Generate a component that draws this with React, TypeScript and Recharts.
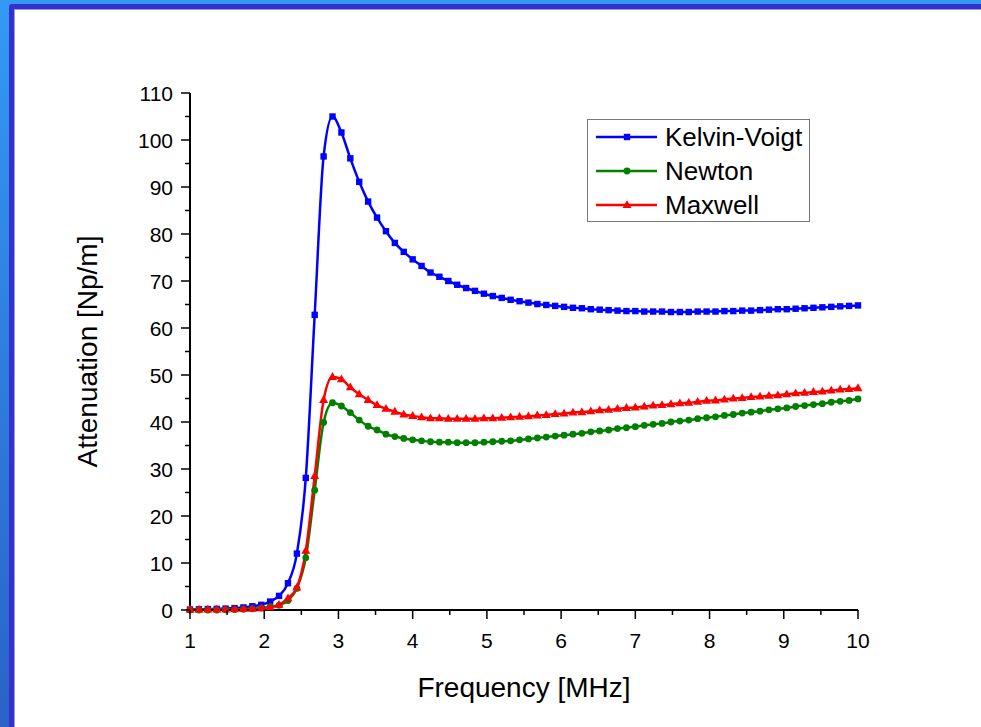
import React from "react";
import { LineChart, Line, XAxis, YAxis, Legend, Label } from "recharts";

const freq = [
  1.0, 1.12, 1.24, 1.36, 1.48, 1.6, 1.72, 1.84, 1.96, 2.08, 2.2, 2.32, 2.44, 2.56, 2.68, 2.8,
  2.92, 3.04, 3.16, 3.28, 3.4, 3.52, 3.64, 3.76, 3.88, 4.0, 4.12, 4.24, 4.36, 4.48, 4.6, 4.72,
  4.84, 4.96, 5.08, 5.2, 5.32, 5.44, 5.56, 5.68, 5.8, 5.92, 6.04, 6.16, 6.28, 6.4, 6.52, 6.64,
  6.76, 6.88, 7.0, 7.12, 7.24, 7.36, 7.48, 7.6, 7.72, 7.84, 7.96, 8.08, 8.2, 8.32, 8.44, 8.56,
  8.68, 8.8, 8.92, 9.04, 9.16, 9.28, 9.4, 9.52, 9.64, 9.76, 9.88, 10.0,
];

const kelvinVoigt = [
  0.1, 0.15, 0.2, 0.25, 0.3, 0.4, 0.55, 0.8, 1.1, 1.8, 3.0, 5.7, 12.0, 28.1, 62.8, 96.5,
  105.0, 101.6, 96.1, 91.1, 86.9, 83.5, 80.6, 78.1, 76.2, 74.6, 73.2, 71.8, 70.9, 70.0, 69.2, 68.5,
  67.9, 67.3, 66.8, 66.4, 66.0, 65.7, 65.4, 65.1, 64.9, 64.7, 64.5, 64.3, 64.2, 64.0, 63.9, 63.8,
  63.7, 63.6, 63.6, 63.5, 63.5, 63.5, 63.4, 63.4, 63.4, 63.5, 63.5, 63.5, 63.6, 63.6, 63.7, 63.7,
  63.8, 63.9, 64.0, 64.0, 64.1, 64.2, 64.3, 64.4, 64.5, 64.6, 64.7, 64.8,
];

const newton = [
  0, 0, 0, 0, 0.05, 0.1, 0.15, 0.25, 0.4, 0.7, 1.0, 2.0, 4.6, 11.1, 25.5, 39.9,
  44.1, 43.4, 42.0, 40.4, 39.1, 38.3, 37.4, 36.9, 36.5, 36.2, 36.0, 35.8, 35.7, 35.7, 35.6, 35.6,
  35.6, 35.7, 35.8, 35.9, 36.0, 36.2, 36.4, 36.6, 36.8, 37.0, 37.2, 37.4, 37.6, 37.9, 38.1, 38.3,
  38.6, 38.8, 39.0, 39.3, 39.5, 39.7, 40.0, 40.2, 40.4, 40.7, 40.9, 41.1, 41.4, 41.6, 41.9, 42.1,
  42.3, 42.6, 42.8, 43.0, 43.3, 43.5, 43.7, 43.9, 44.2, 44.4, 44.6, 44.9,
];

const maxwell = [
  0.1, 0.1, 0.1, 0.1, 0.1, 0.15, 0.2, 0.25, 0.35, 0.6, 1.1, 2.5, 4.8, 12.6, 28.5, 44.7,
  49.6, 49.1, 47.4, 45.9, 44.7, 43.6, 42.8, 42.2, 41.6, 41.3, 41.0, 40.8, 40.8, 40.7, 40.7, 40.7,
  40.7, 40.8, 40.8, 40.9, 41.0, 41.1, 41.2, 41.4, 41.5, 41.7, 41.8, 42.0, 42.1, 42.3, 42.5, 42.6,
  42.8, 43.0, 43.1, 43.3, 43.5, 43.6, 43.8, 44.0, 44.1, 44.3, 44.5, 44.6, 44.8, 45.0, 45.1, 45.3,
  45.4, 45.6, 45.7, 45.9, 46.1, 46.2, 46.4, 46.5, 46.7, 46.9, 47.0, 47.2,
];

const seriesOrder = ["kv", "nw", "mx"];
const xTicks = [1, 1.5, 2, 2.5, 3, 3.5, 4, 4.5, 5, 5.5, 6, 6.5, 7, 7.5, 8, 8.5, 9, 9.5, 10];
const yTicks = [0, 5, 10, 15, 20, 25, 30, 35, 40, 45, 50, 55, 60, 65, 70, 75, 80, 85, 90, 95, 100, 105, 110];

const data = freq.map((f, i) => ({
  f,
  kv: kelvinVoigt[i],
  nw: newton[i],
  mx: maxwell[i],
}));

const FONT = "'Liberation Sans', Arial, sans-serif";

const shapeFor: Record<string, string> = { kv: "square", nw: "circle", mx: "triangle" };

function drawMarker(shape: string, cx: number, cy: number, color: string, key?: string) {
  if (shape === "square")
    return <rect key={key} x={cx - 3.2} y={cy - 3.2} width={6.4} height={6.4} fill={color} />;
  if (shape === "circle") return <circle key={key} cx={cx} cy={cy} r={3.4} fill={color} />;
  return (
    <polygon
      key={key}
      points={`${cx},${cy - 4.8} ${cx + 4.5},${cy + 3} ${cx - 4.5},${cy + 3}`}
      fill={color}
    />
  );
}

const dotFor = (shape: string, color: string) => (props: any) =>
  drawMarker(shape, props.cx, props.cy, color, `${shape}-${props.index}`);

const XTick = (props: any) => {
  const { x, y, payload } = props;
  const major = Number.isInteger(payload.value);
  return (
    <g>
      <line x1={x} y1={y} x2={x} y2={y + (major ? 9 : 5)} stroke="#000" strokeWidth={1.5} />
      {major && (
        <text x={x} y={y + 38} textAnchor="middle" fontSize={21} fontFamily={FONT} fill="#000">
          {payload.value}
        </text>
      )}
    </g>
  );
};

const YTick = (props: any) => {
  const { x, y, payload } = props;
  const major = payload.value % 10 === 0;
  return (
    <g>
      <line x1={x} y1={y} x2={x - (major ? 9 : 5)} y2={y} stroke="#000" strokeWidth={1.5} />
      {major && (
        <text x={x - 17} y={y + 7.5} textAnchor="end" fontSize={21} fontFamily={FONT} fill="#000">
          {payload.value}
        </text>
      )}
    </g>
  );
};

const LegendBox = (props: any) => {
  const items = [...(props.payload || [])].sort(
    (a: any, b: any) => seriesOrder.indexOf(a.dataKey) - seriesOrder.indexOf(b.dataKey)
  );
  return (
    <svg width={224} height={104}>
      <rect x={0.5} y={0.5} width={222} height={102} fill="#fff" stroke="#777" strokeWidth={1} />
      {items.map((it: any, i: number) => {
        const cy = 18 + i * 34;
        return (
          <g key={it.dataKey}>
            <line x1={9} y1={cy} x2={70} y2={cy} stroke={it.color} strokeWidth={2.5} />
            {drawMarker(shapeFor[it.dataKey], 40, cy, it.color)}
            <text x={78} y={cy + 9} fontSize={26} fontFamily={FONT} fill="#000">
              {it.value}
            </text>
          </g>
        );
      })}
    </svg>
  );
};

export default function App() {
  return (
    <div
      style={{
        position: "absolute",
        left: 0,
        top: 0,
        width: 981,
        height: 727,
        overflow: "hidden",
        background: "linear-gradient(#3399f5, #2a62c8)",
      }}
    >
      <div
        style={{
          position: "absolute",
          left: 9,
          top: 4,
          right: 0,
          bottom: 0,
          background: "#3333cc",
          borderTopLeftRadius: 3,
        }}
      />
      <div
        style={{
          position: "absolute",
          left: 14,
          top: 9,
          right: 0,
          bottom: 0,
          background: "#fff",
          borderLeft: "1px solid #9a9ae8",
          borderTop: "1px solid #9a9ae8",
        }}
      />
      <div style={{ position: "absolute", left: 0, top: 0 }}>
        <LineChart
          width={981}
          height={727}
          data={data}
          margin={{ top: 93, right: 123, bottom: 40, left: 130 }}
        >
          <XAxis
            dataKey="f"
            type="number"
            domain={[1, 10]}
            ticks={xTicks}
            interval={0}
            tickSize={0}
            tickMargin={0}
            tickLine={false}
            tick={<XTick />}
            height={77}
            axisLine={{ stroke: "#000", strokeWidth: 2 }}
          >
            <Label
              content={(p: any) => {
                const vb = p.viewBox;
                return (
                  <text
                    x={vb.x + vb.width / 2}
                    y={vb.y + 87}
                    textAnchor="middle"
                    fontSize={28}
                    fontFamily={FONT}
                    fill="#000"
                  >
                    Frequency [MHz]
                  </text>
                );
              }}
            />
          </XAxis>
          <YAxis
            type="number"
            domain={[0, 110]}
            ticks={yTicks}
            interval={0}
            tickSize={0}
            tickMargin={0}
            tickLine={false}
            tick={<YTick />}
            width={60}
            axisLine={{ stroke: "#000", strokeWidth: 2 }}
          >
            <Label
              content={(p: any) => {
                const vb = p.viewBox;
                const cx = vb.x - 43;
                const cy = vb.y + vb.height / 2;
                return (
                  <text
                    x={cx}
                    y={cy}
                    transform={`rotate(-90 ${cx} ${cy})`}
                    textAnchor="middle"
                    dominantBaseline="central"
                    fontSize={28}
                    fontFamily={FONT}
                    fill="#000"
                  >
                    Attenuation [Np/m]
                  </text>
                );
              }}
            />
          </YAxis>
          <Legend
            layout="vertical"
            align="center"
            verticalAlign="middle"
            content={<LegendBox />}
            wrapperStyle={{ left: 587, top: 119, width: 224, height: 104 }}
          />
          <Line
            type="monotone"
            dataKey="kv"
            name="Kelvin-Voigt"
            stroke="#0000ff"
            strokeWidth={2.5}
            dot={dotFor("square", "#0000ff")}
            isAnimationActive={false}
          />
          <Line
            type="monotone"
            dataKey="nw"
            name="Newton"
            stroke="#008000"
            strokeWidth={2.5}
            dot={dotFor("circle", "#008000")}
            isAnimationActive={false}
          />
          <Line
            type="monotone"
            dataKey="mx"
            name="Maxwell"
            stroke="#ff0000"
            strokeWidth={2.5}
            dot={dotFor("triangle", "#ff0000")}
            isAnimationActive={false}
          />
        </LineChart>
      </div>
    </div>
  );
}
